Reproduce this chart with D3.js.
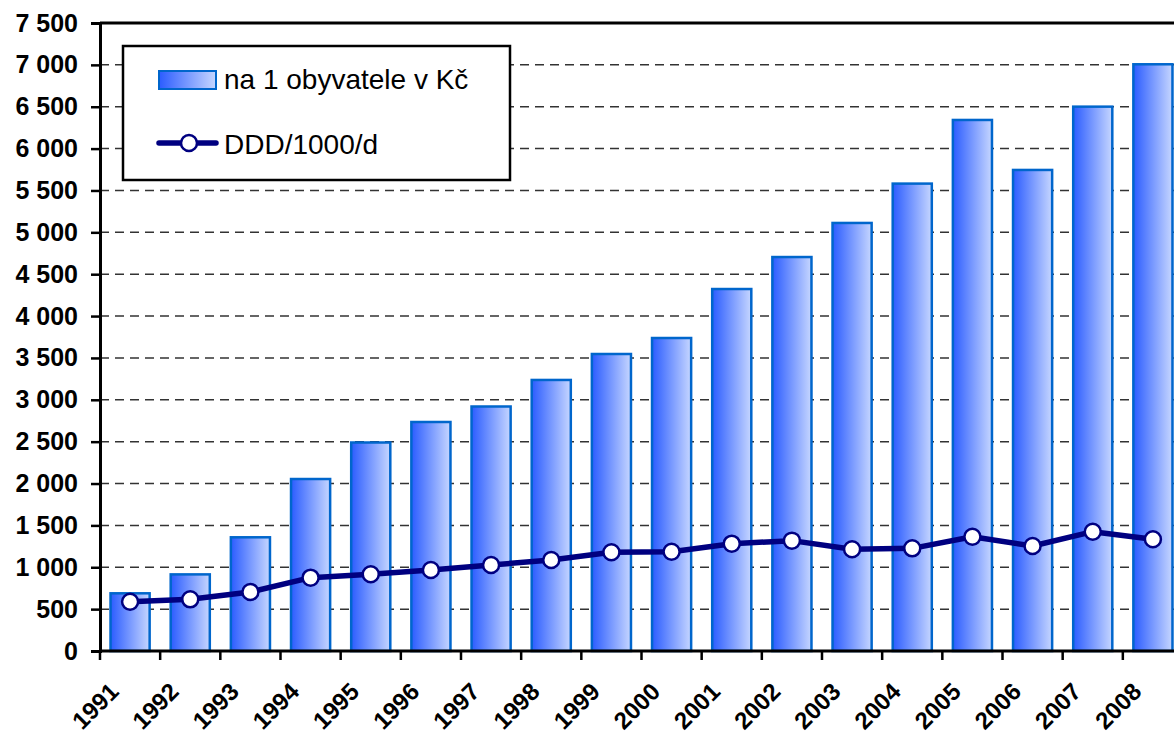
<!DOCTYPE html>
<html>
<head>
<meta charset="utf-8">
<script src="https://cdn.jsdelivr.net/npm/d3@7/dist/d3.min.js"></script>
<style>
  html, body { margin: 0; padding: 0; background: #fff; }
  svg { display: block; font-family: "Liberation Sans", Arial, sans-serif; }
</style>
</head>
<body>
<svg id="chart" width="1174" height="736"></svg>
<script>
const years = ["1991","1992","1993","1994","1995","1996","1997","1998","1999","2000","2001","2002","2003","2004","2005","2006","2007","2008"];
const costPerCapita = [689, 915, 1358, 2054, 2490, 2735, 2920, 3237, 3547, 3738, 4323, 4705, 5112, 5582, 6342, 5745, 6501, 7007];
const ddd = [589, 617, 705, 876, 916, 967, 1027, 1087, 1179, 1186, 1282, 1318, 1215, 1226, 1365, 1254, 1425, 1334];
const yTicks = [0, 500, 1000, 1500, 2000, 2500, 3000, 3500, 4000, 4500, 5000, 5500, 6000, 6500, 7000, 7500];
const seriesNames = ["na 1 obyvatele v Kč", "DDD/1000/d"];

const svg = d3.select("#chart");
const pL = 100, pR = 1183, pT = 23, pB = 651;

const x = d3.scaleBand().domain(years).range([pL, pR]).paddingInner(0.35).paddingOuter(0.175);
const y = d3.scaleLinear().domain([0, 7500]).range([pB, pT]);
const step = x.step();

const defs = svg.append("defs");
const grad = defs.append("linearGradient").attr("id", "barGrad").attr("x1", "0").attr("x2", "1").attr("y1", "0").attr("y2", "0");
grad.append("stop").attr("offset", "0%").attr("stop-color", "#2b5cff");
grad.append("stop").attr("offset", "100%").attr("stop-color", "#c6d6ff");

const fmt = v => d3.format(",")(v).replace(/,/g, " ");

// gridlines
svg.append("g").selectAll("line").data(yTicks.filter(t => t > 0 && t < 7500)).join("line")
  .attr("x1", pL).attr("x2", pR)
  .attr("y1", d => y(d)).attr("y2", d => y(d))
  .attr("stroke", "#333").attr("stroke-width", 1.5).attr("stroke-dasharray", "9,6");

// top border
svg.append("line").attr("x1", pL).attr("x2", pR).attr("y1", y(7500)).attr("y2", y(7500))
  .attr("stroke", "#000").attr("stroke-width", 3);

// bars
svg.append("g").selectAll("rect").data(years).join("rect")
  .attr("x", d => x(d))
  .attr("y", (d, i) => y(costPerCapita[i]))
  .attr("width", x.bandwidth())
  .attr("height", (d, i) => y(0) - y(costPerCapita[i]))
  .attr("fill", "url(#barGrad)")
  .attr("stroke", "#0066cc").attr("stroke-width", 2.5);

// y axis
const yAxis = d3.axisLeft(y).tickValues(yTicks).tickSize(9).tickPadding(13).tickFormat(fmt);
const gy = svg.append("g").attr("transform", `translate(${pL},0)`).call(yAxis);
gy.select(".domain").attr("stroke", "#000").attr("stroke-width", 3);
gy.selectAll(".tick line").attr("stroke", "#000").attr("stroke-width", 2.5);
gy.selectAll(".tick text").attr("font-family", "Liberation Sans, Arial, sans-serif")
  .attr("font-size", 25).attr("font-weight", "bold").attr("fill", "#000");

// x axis line
svg.append("line").attr("x1", pL).attr("x2", pR).attr("y1", pB).attr("y2", pB)
  .attr("stroke", "#000").attr("stroke-width", 3);
// x ticks at category boundaries
svg.append("g").selectAll("line").data(years).join("line")
  .attr("x1", d => x(d) - step * 0.175).attr("x2", d => x(d) - step * 0.175)
  .attr("y1", pB).attr("y2", pB + 9)
  .attr("stroke", "#000").attr("stroke-width", 2.5);
// x labels
svg.append("g").selectAll("text").data(years).join("text")
  .attr("transform", d => `translate(${x(d) + x.bandwidth() / 2 - 10},${pB + 42}) rotate(-45)`)
  .attr("text-anchor", "end")
  .attr("font-size", 24).attr("font-weight", "bold").attr("fill", "#000")
  .text(d => d);

// line
const cx = d => x(d) + x.bandwidth() / 2;
const line = d3.line().x((d, i) => cx(years[i])).y(d => y(d));
svg.append("path").datum(ddd).attr("d", line)
  .attr("fill", "none").attr("stroke", "#000080").attr("stroke-width", 5.5).attr("stroke-linejoin", "round");
svg.append("g").selectAll("circle").data(ddd).join("circle")
  .attr("cx", (d, i) => cx(years[i])).attr("cy", d => y(d)).attr("r", 8)
  .attr("fill", "#fff").attr("stroke", "#000080").attr("stroke-width", 2.5);

// legend
const lg = svg.append("g");
lg.append("rect").attr("x", 123).attr("y", 46).attr("width", 387).attr("height", 134)
  .attr("fill", "#fff").attr("stroke", "#000").attr("stroke-width", 2.5);
lg.append("rect").attr("x", 159).attr("y", 71).attr("width", 57).attr("height", 18)
  .attr("fill", "url(#barGrad)").attr("stroke", "#0066cc").attr("stroke-width", 2);
lg.append("text").attr("x", 224).attr("y", 89).attr("font-size", 28).attr("fill", "#000").text(seriesNames[0]);
lg.append("line").attr("x1", 159).attr("x2", 216).attr("y1", 143).attr("y2", 143)
  .attr("stroke", "#000080").attr("stroke-width", 5.5).attr("stroke-linecap", "round");
lg.append("circle").attr("cx", 189).attr("cy", 143).attr("r", 8)
  .attr("fill", "#fff").attr("stroke", "#000080").attr("stroke-width", 2.5);
lg.append("text").attr("x", 224).attr("y", 154).attr("font-size", 28).attr("fill", "#000").text(seriesNames[1]);
</script>
</body>
</html>
